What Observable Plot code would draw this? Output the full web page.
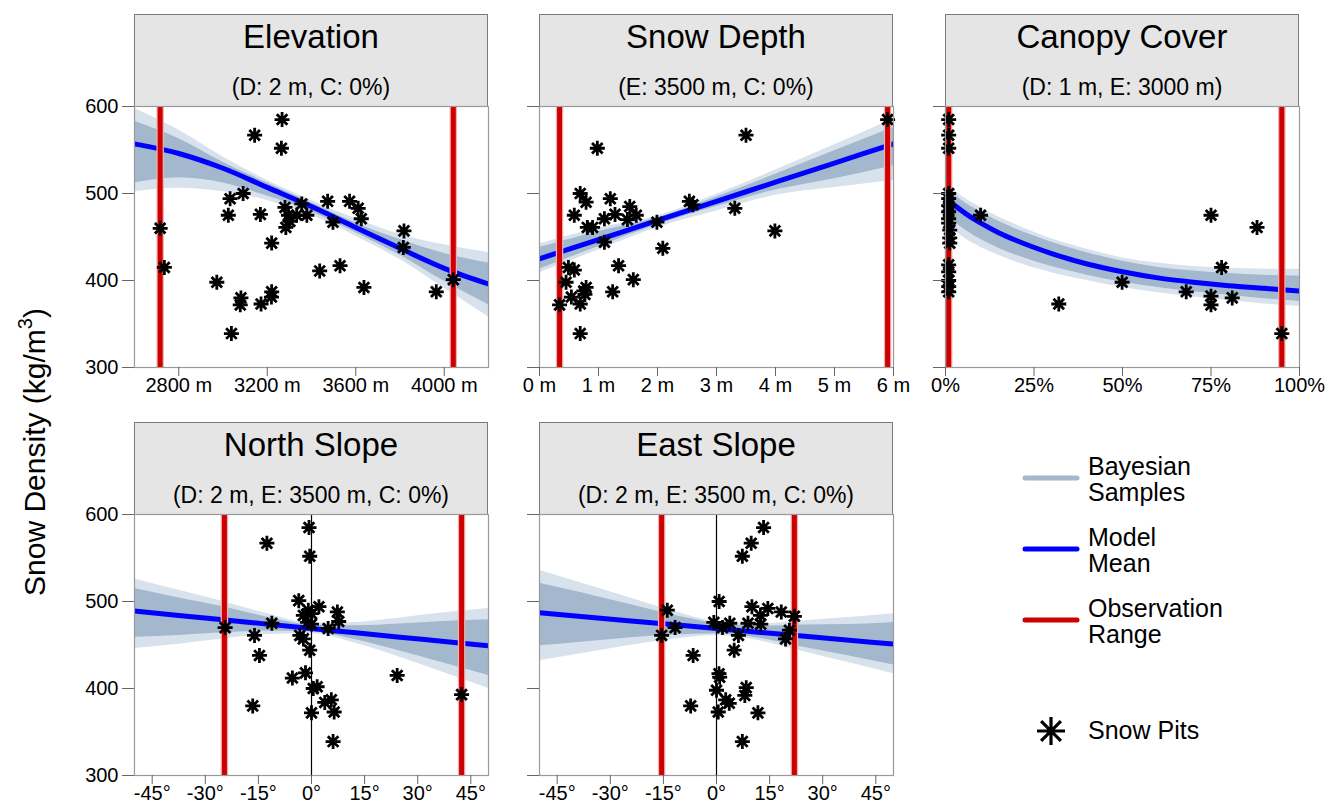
<!DOCTYPE html>
<html>
<head>
<meta charset="utf-8">
<script src="https://cdn.jsdelivr.net/npm/d3@7"></script>
<script src="https://cdn.jsdelivr.net/npm/@observablehq/plot@0.6"></script>
<style>
  body { margin: 0; background: white; font-family: "Liberation Sans", Arial, sans-serif; }
  #root { position: relative; width: 1325px; height: 805px; background: white; overflow: hidden; }
  .strip { position: absolute; box-sizing: border-box; background: #e5e5e5; border: 1.3px solid #7a7a7a; text-align: center; color: #000; }
  .strip .t { position: absolute; left: 0; right: 0; top: 3px; font-size: 33px; line-height: 38px; }
  .strip .s { position: absolute; left: 0; right: 0; top: 59px; font-size: 23px; line-height: 26px; }
  .panel { position: absolute; }
  .panel svg { overflow: visible; }
  #ytitle { position: absolute; left: 35px; top: 452px; transform: translate(-50%, -50%) rotate(-90deg); font-size: 30px; white-space: nowrap; color: #000; }
  .leg { position: absolute; font-size: 25px; line-height: 26px; color: #000; }
</style>
</head>
<body>
<div id="root"></div>
<script>
// ---------- data ----------
const yTicks = [300, 400, 500, 600];

// Elevation panel
const elevPits = [[2716,460],[2735,415],[3267,585],[3143,567],[3264,552],[3032,494],[3091,500],[3024,475],[3169,476],[2972,398],[3081,380],[3078,372],[3172,373],[3220,387],[3219,381],[3038,339],[3220,443],[3280,484],[3296,475],[3284,461],[3302,468],[3333,475],[3356,488],[3379,475],[3473,491],[3497,467],[3572,491],[3611,483],[3625,471],[3437,411],[3529,417],[3637,392],[3818,457],[3815,438],[3964,387],[4041,401]];
const elevX    = [2600, 2800, 3000, 3200, 3400, 3600, 3800, 4000, 4200];
const elevMean = [557, 546, 529, 507, 485, 461, 437, 414, 396];
const elevHiO  = [598, 573, 542, 515, 492, 471, 453, 441, 432];
const elevLoO  = [502, 506, 502, 492, 475, 451, 424, 391, 358];
const elevHiI  = [583, 563, 536, 512, 489, 466, 447, 431, 420];
const elevLoI  = [512, 518, 512, 497, 479, 455, 429, 399, 372];
const elevRange = [2716, 4041];
const elevTicks = [2800, 3200, 3600, 4000];

// Snow depth panel
const depthPits = [[0.34,372],[0.45,398],[0.49,415],[0.59,412],[0.54,381],[0.69,373],[0.69,339],[0.75,388],[0.79,392],[0.77,384],[0.59,475],[0.69,500],[0.79,490],[0.81,461],[0.90,461],[0.98,552],[1.10,471],[1.10,444],[1.20,494],[1.28,476],[1.34,417],[1.24,387],[1.53,485],[1.49,470],[1.64,475],[1.59,401],[1.99,467],[2.09,437],[2.54,491],[2.60,487],[3.31,483],[3.50,567],[3.99,457],[5.90,585]];
const depthX    = [0, 1, 2, 3, 4, 5, 6];
const depthMean = [425, 447, 469, 491, 513, 535, 557];
const depthHiO  = [442, 460, 474, 499, 527, 556, 586];
const depthLoO  = [409, 435, 461, 480, 498, 507, 515];
const depthHiI  = [438, 456, 472, 496, 522, 549, 576];
const depthLoI  = [413, 439, 464, 485, 504, 517, 532];
const depthRange = [0.34, 5.9];
const depthTicks = [0, 1, 2, 3, 4, 5, 6];

// Canopy cover panel
const canopyPits = [[0.9,585],[0.9,567],[0.9,552],[0.9,500],[0.9,494],[0.9,486],[0.9,479],[0.9,471],[0.9,466],[1.2,458],[1.2,449],[1.2,443],[0.9,418],[0.9,410],[0.9,400],[0.9,393],[0.9,387],[9.9,475],[32,373],[49.9,398],[68,387],[75,475],[75,382],[75,372],[78,415],[81,380],[88,461],[95,339]];
const canopyX    = [0.5, 3, 6, 10, 15, 20, 30, 40, 50, 60, 70, 80, 90, 100];
const canopyMean = [494, 485, 476, 466, 455, 446, 431, 419, 410, 403, 398, 394, 391, 388];
const canopyHiO  = [511, 502, 493, 484, 473, 464, 448, 436, 426, 420, 416, 414, 413, 413];
const canopyLoO  = [466, 456, 447, 438, 429, 421, 409, 400, 392, 386, 381, 377, 373, 370];
const canopyHiI  = [506, 497, 488, 479, 468, 459, 444, 432, 422, 415, 411, 408, 406, 405];
const canopyLoI  = [476, 466, 457, 447, 437, 429, 416, 406, 398, 392, 387, 383, 379, 376];
const canopyRange = [0.9, 95];
const canopyTicks = [0, 25, 50, 75, 100];

// North slope panel
const northPits = [[-0.7,585],[-0.5,552],[-12.6,567],[-3.6,501],[-24.4,470],[-11.2,475],[-16.1,461],[-14.7,438],[-16.6,380],[-5.4,412],[-1.7,418],[-3.3,461],[-2.3,457],[-2.3,484],[-0.9,490],[0,486],[2.1,494],[-1.1,476],[0,474],[-0.5,444],[0.5,400],[1.6,402],[0,372],[3.75,384],[5.6,387],[6.4,373],[6.1,339],[4.7,469],[7.3,488],[7.7,477],[24.2,415],[42.4,393]];
const slopeX    = [-50, -37.5, -25, -12.5, 0, 12.5, 25, 37.5, 50];
const northMean = [489, 484, 479, 474, 469, 464, 459, 454, 449];
const northHiO  = [526, 513, 500, 486, 475, 476, 481, 487, 492];
const northLoO  = [446, 451, 457, 462, 463, 452, 436, 418, 400];
const northHiI  = [515, 504, 494, 482, 473, 472, 474, 477, 479];
const northLoI  = [459, 461, 464, 466, 465, 456, 443, 429, 415];
const northRange = [-24.6, 42.4];

// East slope panel
const eastPits = [[13.3,585],[9.8,567],[7.3,552],[0.75,500],[-13.9,490],[-15.5,461],[-11.7,470],[-6.6,438],[-7.3,380],[-0.75,476],[1.7,470],[3.75,475],[6.2,461],[5.0,444],[8.9,475],[10.0,494],[12.4,484],[12.5,474],[14.5,492],[18.3,488],[22.0,483],[20.6,467],[19.5,457],[0.7,417],[0.9,413],[0,398],[2.6,387],[3.6,383],[0.5,373],[8.4,401],[8.0,392],[11.7,372],[7.3,339]];
const eastMean = [487, 482.5, 478, 473.5, 469, 464.5, 460, 455.5, 451];
const eastHiO  = [536, 520.5, 505, 489.5, 477, 474.5, 478, 481.5, 486];
const eastLoO  = [432, 440.5, 449, 456.5, 461, 454.5, 442, 429.5, 417];
const eastHiI  = [521, 509.5, 497, 484.5, 475, 471.5, 473, 473.5, 476];
const eastLoI  = [449, 453.5, 458, 461.5, 463, 457.5, 447, 437.5, 427];
const eastRange = [-15.5, 22.0];
const slopeTicks = [-45, -30, -15, 0, 15, 30, 45];

const titles = ["Elevation", "Snow Depth", "Canopy Cover", "North Slope", "East Slope"];
const subtitles = ["(D: 2 m, C: 0%)", "(E: 3500 m, C: 0%)", "(D: 1 m, E: 3000 m)", "(D: 2 m, E: 3500 m, C: 0%)", "(D: 2 m, E: 3500 m, C: 0%)"];
const legendLabels = [["Bayesian", "Samples"], ["Model", "Mean"], ["Observation", "Range"], ["Snow Pits"]];

// ---------- build ----------
const root = document.getElementById("root");
const PW = 354, PH = 261;
const mL = 75, mR = 40, mT = 2, mB = 30;

const star8 = {
  draw(ctx, size) {
    const r = Math.sqrt(size / Math.PI), d = r * Math.SQRT1_2;
    ctx.moveTo(-r, 0); ctx.lineTo(r, 0);
    ctx.moveTo(0, -r); ctx.lineTo(0, r);
    ctx.moveTo(-d, -d); ctx.lineTo(d, d);
    ctx.moveTo(-d, d); ctx.lineTo(d, -d);
  }
};

function rows(xs, cols) {
  return xs.map((x, i) => {
    const o = {x};
    for (const k in cols) o[k] = cols[k][i];
    return o;
  });
}

function panel(opt) {
  const {left, top, title, subtitle, xDomain, xTicks, xFormat, showY, pits, band, range, zero} = opt;
  const strip = document.createElement("div");
  strip.className = "strip";
  strip.style.left = left + "px";
  strip.style.top = (top - 92) + "px";
  strip.style.width = PW + "px";
  strip.style.height = "93px";
  strip.innerHTML = `<div class="t">${title}</div><div class="s">${subtitle}</div>`;
  root.appendChild(strip);

  const marks = [
    Plot.areaY(band, {x: "x", y1: "loO", y2: "hiO", fill: "#d8e2ec", curve: "monotone-x", clip: true}),
    Plot.areaY(band, {x: "x", y1: "loI", y2: "hiI", fill: "#a3b7cd", curve: "monotone-x", clip: true}),
  ];
  if (zero) marks.push(Plot.ruleX([0], {stroke: "black", strokeWidth: 1.2}));
  marks.push(
    Plot.lineY(band, {x: "x", y: "mean", stroke: "#0000ff", strokeWidth: 5, curve: "monotone-x", clip: true}),
    Plot.ruleX(range, {stroke: "#f0b0b0", strokeWidth: 7.5}),
    Plot.ruleX(range, {stroke: "#cc0000", strokeWidth: 5}),
    Plot.dot(pits, {x: d => d[0], y: d => d[1], symbol: star8, r: 7.5, fill: "none", stroke: "black", strokeWidth: 2.8}),
    Plot.frame({stroke: "#9a9a9a", strokeWidth: 1.2}),
    Plot.axisX({ticks: xTicks, tickFormat: xFormat, tickSize: 9, tickPadding: 1, stroke: "#666", fill: "black", label: null, fontSize: 20}),
    Plot.axisY({ticks: yTicks, tickFormat: showY ? (d => String(d)) : (() => ""), tickSize: 12, tickPadding: 4, stroke: "#666", fill: "black", label: null, fontSize: 20})
  );

  const chart = Plot.plot({
    width: PW + mL + mR,
    height: PH + mT + mB,
    marginLeft: mL, marginRight: mR, marginTop: mT, marginBottom: mB,
    x: {domain: xDomain},
    y: {domain: [300, 600]},
    style: {fontFamily: "'Liberation Sans', Arial, sans-serif", fontSize: "20px", background: "transparent", maxWidth: "none", overflow: "visible", color: "black"},
    marks
  });
  const wrap = document.createElement("div");
  wrap.className = "panel";
  wrap.style.left = (left - mL) + "px";
  wrap.style.top = (top - mT) + "px";
  wrap.appendChild(chart);
  root.appendChild(wrap);
}

const colX = [134, 539, 945];
const rowY = [106, 514];

panel({left: colX[0], top: rowY[0], title: titles[0], subtitle: subtitles[0], xDomain: [2600, 4200], xTicks: elevTicks, xFormat: d => `${d} m`, showY: true,
  pits: elevPits, band: rows(elevX, {mean: elevMean, hiO: elevHiO, loO: elevLoO, hiI: elevHiI, loI: elevLoI}), range: elevRange});
panel({left: colX[1], top: rowY[0], title: titles[1], subtitle: subtitles[1], xDomain: [0, 6], xTicks: depthTicks, xFormat: d => `${d} m`, showY: false,
  pits: depthPits, band: rows(depthX, {mean: depthMean, hiO: depthHiO, loO: depthLoO, hiI: depthHiI, loI: depthLoI}), range: depthRange});
panel({left: colX[2], top: rowY[0], title: titles[2], subtitle: subtitles[2], xDomain: [0, 100], xTicks: canopyTicks, xFormat: d => `${d}%`, showY: false,
  pits: canopyPits, band: rows(canopyX, {mean: canopyMean, hiO: canopyHiO, loO: canopyLoO, hiI: canopyHiI, loI: canopyLoI}), range: canopyRange});
panel({left: colX[0], top: rowY[1], title: titles[3], subtitle: subtitles[3], xDomain: [-50, 50], xTicks: slopeTicks, xFormat: d => `${d}°`, showY: true,
  pits: northPits, band: rows(slopeX, {mean: northMean, hiO: northHiO, loO: northLoO, hiI: northHiI, loI: northLoI}), range: northRange, zero: true});
panel({left: colX[1], top: rowY[1], title: titles[4], subtitle: subtitles[4], xDomain: [-50, 50], xTicks: slopeTicks, xFormat: d => `${d}°`, showY: false,
  pits: eastPits, band: rows(slopeX, {mean: eastMean, hiO: eastHiO, loO: eastLoO, hiI: eastHiI, loI: eastLoI}), range: eastRange, zero: true});

// y-axis title
const yt = document.createElement("div");
yt.id = "ytitle";
yt.innerHTML = "Snow Density (kg/m<sup style='font-size:20px;vertical-align:0;position:relative;top:-13px'>3</sup>)";
root.appendChild(yt);

// legend
const legendSwatches = [
  {y: 478, color: "#a3b7cd"},
  {y: 549, color: "#0000ff"},
  {y: 620, color: "#cc0000"}
];
legendSwatches.forEach((s, i) => {
  const svgNS = "http://www.w3.org/2000/svg";
  const svg = document.createElementNS(svgNS, "svg");
  svg.setAttribute("width", 70); svg.setAttribute("height", 20);
  svg.style.position = "absolute"; svg.style.left = "1015px"; svg.style.top = (s.y - 10) + "px";
  const ln = document.createElementNS(svgNS, "line");
  ln.setAttribute("x1", 10); ln.setAttribute("x2", 62); ln.setAttribute("y1", 10); ln.setAttribute("y2", 10);
  ln.setAttribute("stroke", s.color); ln.setAttribute("stroke-width", 5); ln.setAttribute("stroke-linecap", "round");
  svg.appendChild(ln);
  root.appendChild(svg);
  const t = document.createElement("div");
  t.className = "leg";
  t.style.left = "1088px"; t.style.top = (s.y - 25) + "px";
  t.innerHTML = legendLabels[i].join("<br>");
  root.appendChild(t);
});
{
  const svgNS = "http://www.w3.org/2000/svg";
  const svg = document.createElementNS(svgNS, "svg");
  svg.setAttribute("width", 40); svg.setAttribute("height", 40);
  svg.style.position = "absolute"; svg.style.left = "1031px"; svg.style.top = "711px";
  const r = 14, d = r * Math.SQRT1_2;
  const p = document.createElementNS(svgNS, "path");
  p.setAttribute("transform", "translate(20,20)");
  p.setAttribute("d", `M${-r},0L${r},0M0,${-r}L0,${r}M${-d},${-d}L${d},${d}M${-d},${d}L${d},${-d}`);
  p.setAttribute("stroke", "black"); p.setAttribute("stroke-width", 3.2); p.setAttribute("fill", "none");
  svg.appendChild(p);
  root.appendChild(svg);
  const t = document.createElement("div");
  t.className = "leg";
  t.style.left = "1088px"; t.style.top = "717px";
  t.textContent = legendLabels[3][0];
  root.appendChild(t);
}
</script>
</body>
</html>
